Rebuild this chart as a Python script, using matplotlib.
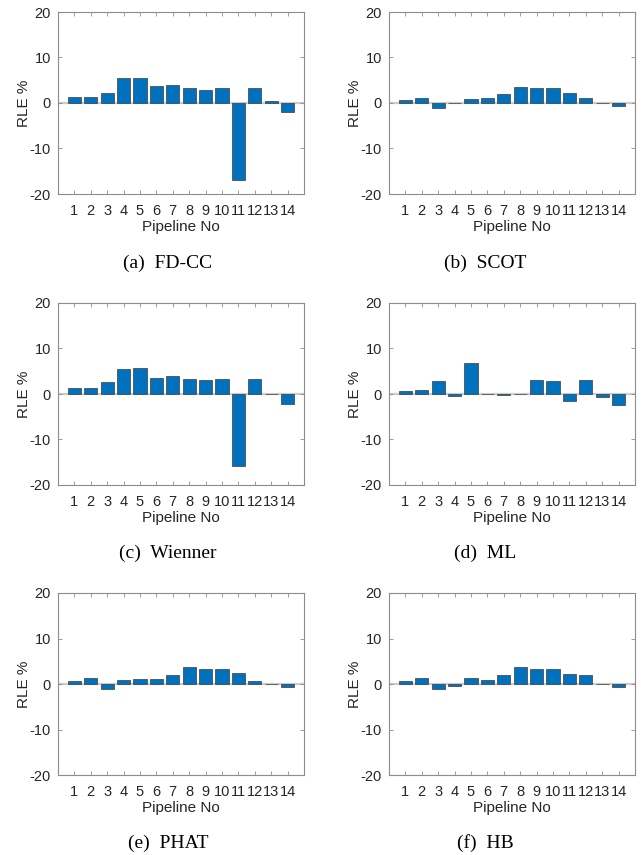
import numpy as np
import matplotlib.pyplot as plt

plt.rcParams["axes.unicode_minus"] = False

# RLE (%) per pipeline
pipelines = np.arange(1, 15)
fdcc = [1.3, 1.3, 2.2, 5.6, 5.5, 3.7, 3.9, 3.4, 2.8, 3.2, -16.9, 3.2, 0.4, -2.0]
scot = [0.7, 1.2, -1.2, 0.1, 0.8, 1.0, 1.9, 3.6, 3.4, 3.4, 2.3, 1.2, -0.1, -0.7]
wienner = [1.3, 1.3, 2.6, 5.5, 5.8, 3.6, 4.0, 3.4, 3.1, 3.2, -15.9, 3.4, -0.1, -2.1]
ml = [0.7, 0.9, 2.8, -0.4, 6.8, -0.1, -0.2, 0.1, 3.0, 2.8, -1.6, 3.1, -0.7, -2.5]
phat = [0.6, 1.4, -1.2, 0.9, 1.2, 1.0, 2.0, 3.8, 3.4, 3.4, 2.5, 0.6, -0.1, -0.7]
hb = [0.7, 1.3, -1.2, -0.4, 1.3, 0.9, 2.0, 3.8, 3.4, 3.4, 2.2, 2.0, -0.1, -0.7]

series = [fdcc, scot, wienner, ml, phat, hb]
captions = ["(a)  FD-CC", "(b)  SCOT", "(c)  Wienner", "(d)  ML", "(e)  PHAT", "(f)  HB"]
yticks = [-20, -10, 0, 10, 20]

W, H = 641, 855
fig = plt.figure(figsize=(W / 100, H / 100), dpi=100)

# axes boxes in pixels: (left, top, width, height)
lefts = [58, 389]
tops = [12, 303, 593]
aw, ah = 246, 182
cap_y = [263, 553, 843]
cap_x = [168, 485]

axis_col = "#8c8c8c"
text_col = "#262626"

for i, vals in enumerate(series):
    r, c = divmod(i, 2)
    l, t = lefts[c], tops[r]
    ax = fig.add_axes([l / W, 1 - (t + ah) / H, aw / W, ah / H])
    ax.axhline(0, color="#cccccc", lw=1.6, zorder=1)
    ax.bar(pipelines, vals, width=0.8, color="#0072BD",
           edgecolor="#3a3a3a", linewidth=0.5, zorder=2)
    ax.set_xlim(0, 15)
    ax.set_ylim(-20, 20)
    ax.set_xticks(pipelines)
    ax.set_yticks(yticks)
    ax.tick_params(direction="in", length=3, width=0.6, color=axis_col,
                   top=True, right=True, labelsize=10.5, labelcolor=text_col)
    ax.tick_params(axis="x", pad=7)
    ax.tick_params(axis="y", pad=5)
    for s in ax.spines.values():
        s.set_color(axis_col)
        s.set_linewidth(0.8)
    for lab in ax.get_xticklabels() + ax.get_yticklabels():
        lab.set_family("Liberation Sans")
    ax.set_xlabel("Pipeline No", fontsize=11, color=text_col, family="Liberation Sans")
    ax.set_ylabel("RLE %", fontsize=11, color=text_col, family="Liberation Sans")
    ax.xaxis.set_label_coords(0.5, -0.181)
    ax.yaxis.set_label_coords(-0.14, 0.5)
    ax.xaxis.label.set_va("center")
    ax.yaxis.label.set_va("center")
    fig.text(cap_x[c] / W, 1 - cap_y[r] / H, captions[i], ha="center", va="center",
             fontsize=14, family="Liberation Serif", color="black")

fig.savefig("out.png", dpi=100)
